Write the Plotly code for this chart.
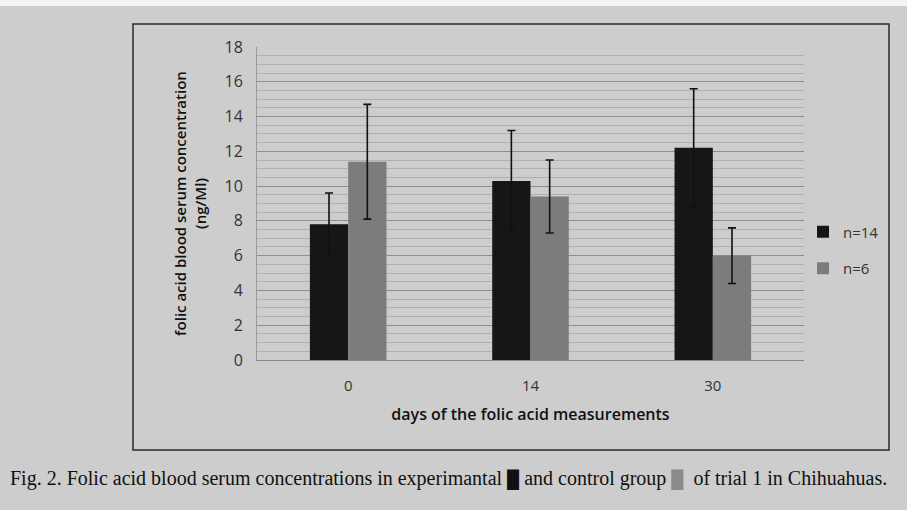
import plotly.graph_objects as go

days = ["0", "14", "30"]
exp_mean = [7.8, 10.3, 12.2]
exp_err = [1.8, 2.9, 3.4]
ctrl_mean = [11.4, 9.4, 6.0]
ctrl_err = [3.3, 2.1, 1.6]
series_names = ["n=14", "n=6"]
y_ticks = [0, 2, 4, 6, 8, 10, 12, 14, 16, 18]

W, H = 907, 510
L, R, T, B = 257, 804, 47, 360

def px(x):
    return (x - L) / (R - L)

def py(y):
    return (B - y) / (B - T)

fig = go.Figure()
fig.add_trace(go.Bar(
    x=days, y=exp_mean, name=series_names[0], legendgroup="a",
    marker=dict(color="#161616", line=dict(width=0)),
    error_y=dict(type="data", array=exp_err, visible=True, color="#111111", thickness=1.6, width=4),
))
fig.add_trace(go.Bar(
    x=days, y=ctrl_mean, name=series_names[1], legendgroup="b",
    marker=dict(color="#7c7c7c", line=dict(width=0)),
    error_y=dict(type="data", array=ctrl_err, visible=True, color="#111111", thickness=1.6, width=4),
))

bg = "#cdcdcd"
fig.update_layout(
    width=W, height=H,
    margin=dict(l=L, r=W - R, t=T, b=H - B, pad=0),
    paper_bgcolor=bg, plot_bgcolor=bg,
    barmode="group", bargap=0.58, bargroupgap=0,
    font=dict(family="Open Sans", color="#222222"),
    showlegend=True,
    legend=dict(x=px(803), y=py(250), xanchor="left", yanchor="middle",
                bgcolor="rgba(0,0,0,0)", font=dict(size=15, color="#333333"),
                tracegroupgap=14, itemwidth=30),
    xaxis=dict(
        showgrid=False, showline=True, linecolor="#8a8a8a", linewidth=1,
        ticks="", tickfont=dict(size=15, color="#333333"), ticklabelstandoff=12,
        title=dict(text="days of the folic acid measurements", standoff=14,
                   font=dict(size=16, color="#111111", weight=600)),
    ),
    yaxis=dict(
        range=[0, 18], tickvals=y_ticks, ticks="",
        showgrid=True, gridcolor="#8e8e8e", gridwidth=1,
        minor=dict(dtick=0.5, showgrid=True, gridcolor="#b0b0b0", gridwidth=1),
        showline=True, linecolor="#9a9a9a", linewidth=1,
        zeroline=False, ticklabelstandoff=10,
        tickfont=dict(size=16, color="#333333"),
        title=dict(text="folic acid blood serum concentration<br>(ng/Ml)", standoff=14,
                   font=dict(size=15, color="#111111", weight=600)),
    ),
)

# outer frame of the printed figure
fig.add_shape(type="rect", xref="paper", yref="paper",
              x0=px(133), x1=px(889), y0=py(450), y1=py(24),
              line=dict(color="#2a2a2a", width=1.5), fillcolor="rgba(0,0,0,0)", layer="below")
# white strip at top of photo
fig.add_shape(type="rect", xref="paper", yref="paper",
              x0=px(0), x1=px(W), y0=py(6), y1=py(0),
              line=dict(width=0), fillcolor="#f4f4f4", layer="below")

fig.add_annotation(
    xref="paper", yref="paper", x=px(8), y=py(479), xanchor="left", yanchor="middle",
    showarrow=False,
    text=("Fig. 2. Folic acid blood serum concentrations in experimantal "
          "<span style='color:#111111;font-size:17px'>█</span> and control group "
          "<span style='color:#8a8a8a;font-size:17px'>█</span>  of trial 1 in Chihuahuas."),
    font=dict(family="Liberation Serif", size=20, color="#111111"),
)

fig.write_html("out.html", config={"displayModeBar": False},
               post_script="document.body.style.margin='0';document.body.style.overflow='hidden';")
